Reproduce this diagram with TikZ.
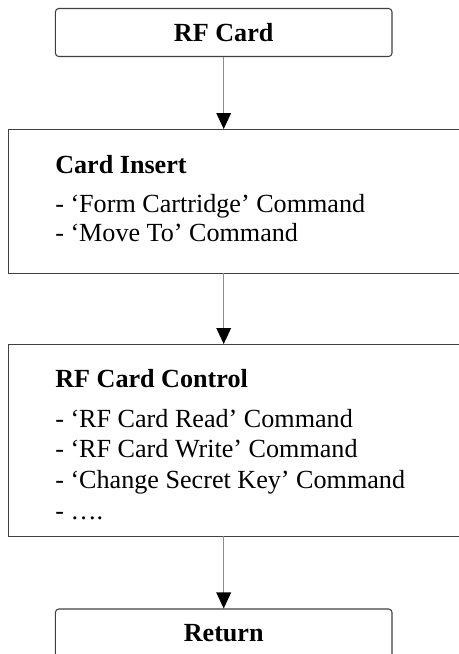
\documentclass[tikz,border=0pt]{standalone}
\usepackage{fontspec}
\setmainfont{Liberation Serif}
\usetikzlibrary{arrows.meta}

\tikzset{
	endbox/.style={draw=black!75, line width=0.8pt, rounded corners=2.5pt, minimum width=252.4pt, minimum height=36pt, font=\fontsize{19.6}{23}\selectfont\bfseries, inner sep=0pt},
	stepbox/.style={draw=black!75, line width=0.8pt, minimum width=346.5pt, minimum height=#1, anchor=north west, inner sep=0pt},
	head/.style={anchor=base west, inner sep=0pt, font=\fontsize{19.6}{23}\selectfont\bfseries},
	item/.style={anchor=base west, inner sep=0pt, font=\fontsize{19.6}{23}\selectfont},
	flow/.style={draw=black!45, line width=0.8pt, -{Triangle[length=12pt,width=11pt,color=black]}}
}

\begin{document}
\begin{tikzpicture}[x=0.75pt, y=-0.75pt]
	\useasboundingbox (0,0) rectangle (458,654);

	\node[endbox] (rf) at (223.7,32.5) {RF Card};

	\node[stepbox=108pt] (insert) at (8,129) {};
	\node[head] (insert_h) at (55,173.3) {Card Insert};
	\node[item] (insert_1) at (55,212.7) {- ‘Form Cartridge’ Command};
	\node[item] (insert_2) at (55,241.7) {- ‘Move To’ Command};

	\node[stepbox=144pt] (control) at (8,344) {};
	\node[head] (control_h) at (55,387.3) {RF Card Control};
	\node[item] (control_1) at (55,427.3) {- ‘RF Card Read’ Command};
	\node[item] (control_2) at (55,457.6) {- ‘RF Card Write’ Command};
	\node[item] (control_3) at (55,488.5) {- ‘Change Secret Key’ Command};
	\node[item] (control_4) at (55,519.5) {- ….};

	\node[endbox] (ret) at (223.7,633) {Return};

	\coordinate (c1) at (223.7,129);
	\coordinate (c2) at (223.7,273);
	\coordinate (c3) at (223.7,344);
	\coordinate (c4) at (223.7,536);

	\draw[flow] (rf) -- (c1);
	\draw[flow] (c2) -- (c3);
	\draw[flow] (c4) -- (ret);
\end{tikzpicture}
\end{document}
